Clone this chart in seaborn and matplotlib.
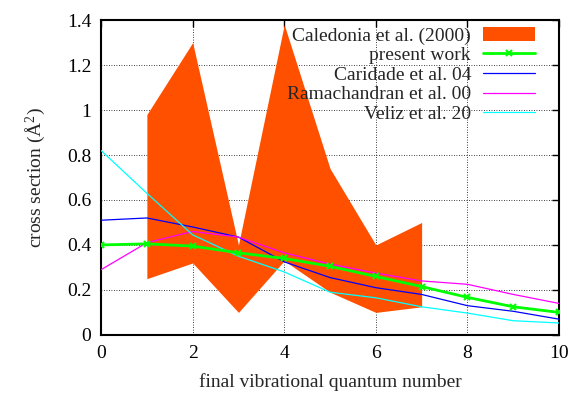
import numpy as np
import pandas as pd
import matplotlib
matplotlib.use("Agg")
import matplotlib.pyplot as plt
import seaborn as sns

# Data
v = [0, 1, 2, 3, 4, 5, 6, 7, 8, 9, 10]
present = [0.40, 0.405, 0.395, 0.365, 0.34, 0.305, 0.26, 0.215, 0.167, 0.125, 0.10]
caridade = [0.51, 0.52, 0.48, 0.435, 0.325, 0.255, 0.21, 0.18, 0.13, 0.105, 0.07]
ramachandran = [0.29, 0.41, 0.46, 0.435, 0.365, 0.315, 0.275, 0.24, 0.225, 0.18, 0.14]
veliz = [0.82, 0.63, 0.445, 0.35, 0.28, 0.19, 0.165, 0.125, 0.097, 0.063, 0.053]
cal_v = [1, 2, 3, 4, 5, 6, 7]
cal_low = [0.25, 0.32, 0.10, 0.33, 0.19, 0.10, 0.125]
cal_high = [0.98, 1.30, 0.40, 1.38, 0.74, 0.40, 0.50]

sns.set_theme(style="white")
plt.rcParams['font.family'] = ['Liberation Serif', 'DejaVu Serif']
plt.rcParams['mathtext.fontset'] = 'custom'
plt.rcParams['mathtext.rm'] = 'Liberation Serif'
plt.rcParams['mathtext.it'] = 'Liberation Serif:italic'

fig, ax = plt.subplots(figsize=(5.71, 3.94), dpi=100)
fig.subplots_adjust(left=0.177, right=0.979, top=0.949, bottom=0.150)

ax.fill_between(cal_v, cal_low, cal_high, color='#FF5000', linewidth=0,
                label='Caledonia et al. (2000)', zorder=2)

df = pd.DataFrame({'v': v, 'present': present, 'caridade': caridade,
                   'ramachandran': ramachandran, 'veliz': veliz})
sns.lineplot(data=df, x='v', y='present', ax=ax, color='#00FF00', lw=2,
             marker='x', markersize=5, markeredgewidth=1.5, markeredgecolor='#00FF00',
             label='present work', zorder=5)
sns.lineplot(data=df, x='v', y='caridade', ax=ax, color='#0000FF', lw=0.9,
             label='Caridade et al. 04', zorder=4)
sns.lineplot(data=df, x='v', y='ramachandran', ax=ax, color='#FF00FF', lw=0.9,
             label='Ramachandran et al. 00', zorder=4)
sns.lineplot(data=df, x='v', y='veliz', ax=ax, color='#00FFFF', lw=0.9,
             label='Veliz et al. 20', zorder=4)

ax.set_xlim(0, 10)
ax.set_ylim(0, 1.4)
ax.set_xticks([0, 2, 4, 6, 8, 10])
ax.set_yticks([0, 0.2, 0.4, 0.6, 0.8, 1.0, 1.2, 1.4])
ax.set_yticklabels(['0', '0.2', '0.4', '0.6', '0.8', '1', '1.2', '1.4'])
ax.grid(True, color='black', linestyle=(0, (1, 2)), linewidth=0.6)
ax.set_axisbelow(True)
ax.tick_params(direction='in', top=True, right=True, length=5, width=1,
               labelsize=14, colors='black', pad=7)
for s in ax.spines.values():
    s.set_color('black')
    s.set_linewidth(1.5)

ax.set_xlabel('final vibrational quantum number', fontsize=14, labelpad=8)
ax.set_ylabel('cross section (Å$^2$)', fontsize=14, labelpad=14)

leg = ax.legend(loc='upper right', bbox_to_anchor=(0.948, 0.978), frameon=False,
                markerfirst=False, fontsize=14, handlelength=2.7,
                labelspacing=0.1, borderpad=0.0, borderaxespad=0.0,
                handletextpad=0.6)
for t in leg.get_texts():
    t.set_ha('right')
leg.set_zorder(10)

fig.savefig('out.png', dpi=100)
